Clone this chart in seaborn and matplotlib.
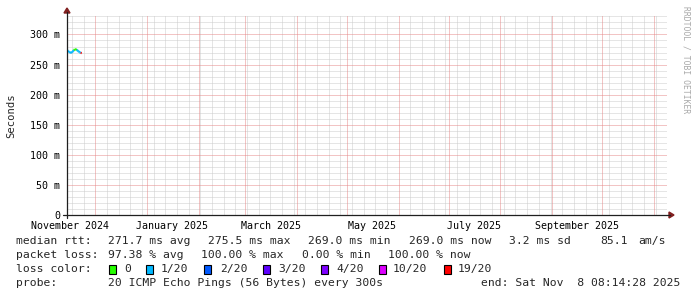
import numpy as np
import pandas as pd
import matplotlib
matplotlib.use("Agg")
import matplotlib.pyplot as plt
from matplotlib.patches import Rectangle, Polygon
from matplotlib.lines import Line2D
import seaborn as sns

# ---------------- data ----------------
rtt_ms = [274.0, 272.5, 271.0, 270.0, 269.5, 270.5, 272.0, 274.0,
          275.5, 275.0, 274.5, 273.0, 271.5, 270.5, 269.5, 269.0]
smoke_top_ms = [274.5, 273.0, 271.5, 270.5, 270.0, 271.0, 272.5, 275.0,
                276.5, 277.0, 276.0, 273.5, 272.0, 271.0, 270.0, 269.5]
loss_of_20 = [1, 1, 1, 1, 1, 1, 1, 0, 0, 0, 1, 1, 1, 1, 19, 19]
sample_start = "2024-11-14 06:00"
sample_step = "14h"

loss_levels = [0, 1, 2, 3, 4, 10, 19]
loss_labels = ["0", "1/20", "2/20", "3/20", "4/20", "10/20", "19/20"]
loss_colors = ["#26ff00", "#00b8ff", "#0059ff", "#5e00ff", "#7e00ff", "#dd00ff", "#ff0000"]

y_ticks_s = [0, 0.05, 0.10, 0.15, 0.20, 0.25, 0.30]
y_tick_labels = ["0", "50 m", "100 m", "150 m", "200 m", "250 m", "300 m"]
y_minor_ms = [10, 20, 30, 40, 60, 70, 80, 90, 110, 120, 130, 140, 160, 170, 180, 190,
              210, 220, 230, 240, 260, 270, 280, 290, 310, 320, 330]
x_label_months = ["2024-11-01", "2025-01-01", "2025-03-01", "2025-05-01", "2025-07-01", "2025-09-01"]
x_tick_labels = ["November 2024", "January 2025", "March 2025", "May 2025", "July 2025", "September 2025"]

graph_start = "2024-11-14 05:00"
graph_end = "2025-11-09 02:00"

legend_rtt = ["median rtt:", "271.7 ms avg", "275.5 ms max", "269.0 ms min",
              "269.0 ms now", "3.2 ms sd", "85.1", "am/s"]
legend_loss = ["packet loss:", "97.38 % avg", "100.00 % max", "0.00 % min", "100.00 % now"]
legend_probe = ["probe:", "20 ICMP Echo Pings (56 Bytes) every 300s",
                "end: Sat Nov  8 08:14:28 2025"]

# ---------------- style ----------------
sns.set_theme(style="white")
plt.rcParams["font.family"] = ["DejaVu Sans Mono", "DejaVu Sans"]
plt.rcParams["axes.facecolor"] = "white"
plt.rcParams["figure.facecolor"] = "white"

W, H = 697, 297
fig = plt.figure(figsize=(W / 100, H / 100), dpi=100)
L, R, B, T = 67, 667, 215, 14.5
ax = fig.add_axes([L / W, 1 - B / H, (R - L) / W, (B - T) / H])

def fx(px):
    return px / W

def fy(py):
    return 1 - py / H

# ---------------- grid ----------------
t0 = pd.Timestamp(graph_start)
t1 = pd.Timestamp(graph_end)
ax.set_xlim(t0, t1)
ax.set_ylim(0, 0.3332)

grid_gray = "#cdcdcd"
grid_red = "#e68a8a"
gkw = dict(lw=0.72, ls=(0, (1, 1)), antialiased=True, snap=True)

weeks = pd.date_range(t0, t1, freq="W-SUN")
months = pd.date_range(t0, t1, freq="MS")
for d in weeks:
    if d not in months:
        ax.axvline(d, color=grid_gray, zorder=1, **gkw)
for v in y_minor_ms:
    ax.axhline(v / 1000, color=grid_gray, zorder=1, **gkw)
for d in months:
    ax.axvline(d, color=grid_red, zorder=1.2, **gkw)
for v in y_ticks_s[1:]:
    ax.axhline(v, color=grid_red, zorder=1.2, **gkw)

ax.set_yticks(y_ticks_s)
ax.set_yticklabels(y_tick_labels)
ax.set_yticks([v / 1000 for v in y_minor_ms], minor=True)
ax.grid(False)

label_pos = [pd.Timestamp(m) + pd.Timedelta(days=15.3) for m in x_label_months]
ax.set_xticks(label_pos)
ax.set_xticklabels(x_tick_labels)
ax.set_xticks(list(weeks) + list(months), minor=True)

ax.tick_params(axis="x", which="major", length=0, pad=4.3, labelsize=7.2, colors="black")
ax.tick_params(axis="x", which="minor", length=2, width=0.7, color="#777777", direction="out")
ax.tick_params(axis="y", which="major", length=2.5, width=0.7, color="#444444",
               direction="out", pad=2.4, labelsize=7.2, labelcolor="black")
ax.tick_params(axis="y", which="minor", length=1.5, width=0.7, color="#999999", direction="out")

for s in ax.spines.values():
    s.set_visible(False)

# ---------------- data marks ----------------
times = pd.date_range(pd.Timestamp(sample_start), periods=len(rtt_ms), freq=sample_step)

def color_for(loss):
    idx = 0
    for k, lv in enumerate(loss_levels):
        if loss >= lv:
            idx = k
    return loss_colors[idx]

ax.fill_between(times, np.array(rtt_ms) / 1000, np.array(smoke_top_ms) / 1000,
                color="#707070", lw=0, zorder=3)

rows = []
for i in range(len(rtt_ms) - 1):
    for j in (i, i + 1):
        rows.append({"time": times[j], "rtt": rtt_ms[j] / 1000, "seg": f"s{i}"})
df = pd.DataFrame(rows)
palette = {f"s{i}": color_for(loss_of_20[i]) for i in range(len(rtt_ms) - 1)}
sns.lineplot(data=df, x="time", y="rtt", hue="seg", palette=palette, legend=False,
             estimator=None, sort=False, lw=1.6, ax=ax, zorder=4,
             solid_capstyle="butt")
ax.set_xlabel("")
ax.set_ylabel("")

# ---------------- axes lines and arrows ----------------
axis_col = "#1f1f1f"
arrow_col = "#801f1f"
fig.add_artist(Line2D([fx(63), fx(670)], [fy(215), fy(215)], color=axis_col, lw=0.9,
                      transform=fig.transFigure))
fig.add_artist(Line2D([fx(67), fx(67)], [fy(218), fy(12)], color=axis_col, lw=0.9,
                      transform=fig.transFigure))
fig.add_artist(Polygon([[fx(669), fy(212)], [fx(669), fy(218)], [fx(674), fy(215)]],
                       closed=True, color=arrow_col, transform=fig.transFigure))
fig.add_artist(Polygon([[fx(64), fy(13)], [fx(70), fy(13)], [fx(67), fy(8)]],
                       closed=True, color=arrow_col, transform=fig.transFigure))

# ---------------- texts ----------------
fig.text(fx(11), fy(116), "Seconds", rotation=90, ha="center", va="center", fontsize=7.6)
fig.text(fx(686), fy(60), "RRDTOOL / TOBI OETIKER", rotation=270, ha="center", va="center",
         fontsize=5.8, color="#a8a8a8")

fs = 8.2
rtt_x = [16, 108, 208, 308, 409, 509, 600, 638]
for s, x in zip(legend_rtt, rtt_x):
    fig.text(fx(x), fy(241), s, ha="left", va="center", fontsize=fs)
loss_x = [16, 108, 201, 302, 388]
for s, x in zip(legend_loss, loss_x):
    fig.text(fx(x), fy(255), s, ha="left", va="center", fontsize=fs)

fig.text(fx(16), fy(269), "loss color:", ha="left", va="center", fontsize=fs)
box_x = [109, 146, 204, 263, 321, 379, 444]
lab_x = [124, 161, 220, 278, 336, 393, 458]
for c, lab, bx, lx in zip(loss_colors, loss_labels, box_x, lab_x):
    fig.add_artist(Rectangle((fx(bx), fy(273.5)), 7 / W, 9 / H, facecolor=c,
                             edgecolor="black", lw=0.8, transform=fig.transFigure))
    fig.text(fx(lx), fy(269), lab, ha="left", va="center", fontsize=fs)

probe_x = [16, 108, 481]
for s, x in zip(legend_probe, probe_x):
    fig.text(fx(x), fy(283), s, ha="left", va="center", fontsize=fs)

fig.savefig("out.png", dpi=100)
